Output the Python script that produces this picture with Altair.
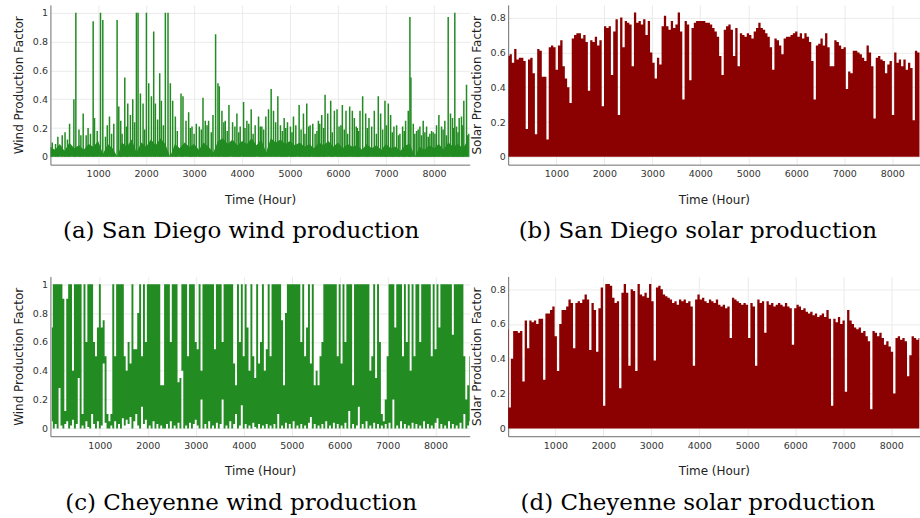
import altair as alt
import pandas as pd

GREEN = "#228b22"
DARKRED = "#8b0000"

# ---------------- (a) San Diego wind ----------------
# dense low band, sampled every 100 h
sd_wind_band_step = 100
sd_wind_band = [0.07, 0.05, 0.09, 0.04, 0.10, 0.06, 0.08, 0.05, 0.09, 0.07,
                0.11, 0.02, 0.09, 0.06, 0.00, 0.10, 0.07, 0.12, 0.03, 0.10,
                0.07, 0.12, 0.08, 0.13, 0.09, 0.00, 0.09, 0.06, 0.10, 0.07,
                0.09, 0.05, 0.10, 0.07, 0.03, 0.11, 0.13, 0.09, 0.12, 0.08,
                0.11, 0.09, 0.13, 0.08, 0.12, 0.03, 0.13, 0.10, 0.12, 0.09,
                0.11, 0.08, 0.10, 0.07, 0.09, 0.06, 0.10, 0.08, 0.11, 0.07,
                0.10, 0.06, 0.09, 0.07, 0.08, 0.05, 0.09, 0.06, 0.08, 0.05,
                0.09, 0.06, 0.07, 0.04, 0.08, 0.09, 0.00, 0.07, 0.05, 0.08,
                0.06, 0.09, 0.05, 0.10, 0.07, 0.09, 0.06, 0.11]
# spikes above the band
sd_wind_spike_hours = [43, 112, 251, 404, 494, 535, 688, 750, 840, 896, 924, 1049, 1097,
                       1153, 1236, 1326, 1395, 1430, 1499, 1555, 1617, 1673, 1721, 1798,
                       1832, 1881, 1936, 2006, 2054, 2110, 2158, 2193, 2283, 2318, 2401,
                       2456, 2505, 2553, 2609, 2727, 2768, 2831, 2886, 2956, 3046, 3108,
                       3185, 3233, 3302, 3358, 3393, 3448, 3497, 3525, 3580, 3649, 3726,
                       3802, 3892, 3961, 4031, 4100, 4190, 4273, 4343, 4412, 4495, 4551,
                       4606, 4655, 4745, 4800, 4877, 4946, 5008, 5071, 5189, 5279, 5348,
                       5418, 5473, 5522, 5591, 5660, 5730, 5785, 5847, 5924, 5979, 6021,
                       6090, 6166, 6243, 6298, 6340, 6402, 6458, 6513, 6576, 6645, 6701,
                       6756, 6839, 6888, 6978, 7047, 7096, 7165, 7221, 7290, 7346, 7408,
                       7464, 7498, 7519, 7568, 7637, 7706, 7775, 7845, 7914, 7983, 8053,
                       8102, 8157, 8226, 8296, 8344, 8386, 8434, 8469, 8525, 8573, 8622,
                       8678, 8726,
                       160, 310, 360, 600, 640, 790, 980, 1190, 1280, 1470, 1590, 1760,
                       1970, 2240, 2360, 2650, 2920, 3000, 3150, 3270, 3620, 3690, 3850,
                       3930, 4060, 4140, 4230, 4380, 4450, 4700, 4840, 4910, 5040, 5120,
                       5230, 5310, 5390, 5560, 5620, 5700, 5880, 6060, 6130, 6200, 6380,
                       6430, 6610, 6800, 6930, 7010, 7130, 7260, 7380, 7600, 7670, 7740,
                       7810, 7880, 7950, 8020, 8190, 8260, 8410, 8500, 8600, 8700]
sd_wind_spike_values = [0.10, 0.09, 0.15, 0.23, 0.40, 1.00, 0.30, 0.15, 0.16, 0.94, 0.27, 1.00, 0.95,
                        0.14, 0.28, 0.23, 0.95, 0.35, 0.16, 0.55, 0.37, 0.29, 0.40, 1.00,
                        1.00, 0.44, 0.37, 1.00, 0.51, 0.42, 0.87, 0.37, 0.58, 0.39, 1.00,
                        1.00, 0.51, 0.39, 0.28, 0.44, 0.42, 0.25, 0.31, 0.21, 0.23, 0.21,
                        0.41, 0.25, 0.25, 0.17, 0.29, 0.85, 0.51, 0.49, 0.32, 0.25, 0.36,
                        0.24, 0.30, 0.21, 0.38, 0.25, 0.33, 0.22, 0.28, 0.21, 0.28, 0.33,
                        0.47, 0.32, 0.42, 0.22, 0.27, 0.24, 0.21, 0.28, 0.36, 0.30, 0.37,
                        0.22, 0.23, 0.16, 0.25, 0.29, 0.43, 0.30, 0.39, 0.32, 0.33, 0.21,
                        0.36, 0.32, 0.35, 0.32, 0.27, 0.20, 0.32, 0.42, 0.30, 0.27, 0.21,
                        0.32, 0.42, 0.30, 0.39, 0.37, 0.29, 0.21, 0.22, 0.16, 0.21, 0.25,
                        0.32, 0.97, 0.55, 0.23, 0.18, 0.21, 0.25, 0.21, 0.16, 0.17, 0.22,
                        0.29, 0.21, 0.25, 0.97, 0.30, 0.27, 1.00, 0.21, 0.27, 0.28, 0.39,
                        0.50, 0.16,
                        0.14, 0.17, 0.12, 0.19, 0.15, 0.20, 0.18, 0.22, 0.16, 0.25, 0.21, 0.24,
                        0.19, 0.26, 0.22, 0.18, 0.20, 0.16, 0.19, 0.22, 0.24, 0.18, 0.21,
                        0.17, 0.20, 0.23, 0.16, 0.21, 0.19, 0.24, 0.18, 0.20, 0.17, 0.22,
                        0.19, 0.16, 0.21, 0.18, 0.23, 0.20, 0.17, 0.22, 0.19, 0.16, 0.21,
                        0.18, 0.20, 0.16, 0.19, 0.22, 0.17, 0.15, 0.18, 0.16, 0.19, 0.15,
                        0.17, 0.14, 0.18, 0.16, 0.19, 0.15, 0.20, 0.17, 0.22, 0.15]

# ---------------- (b) San Diego solar: daily peaks every 48 h ----------------
solar_step = 48
sd_solar_peaks = [0.58, 0.59, 0.54, 0.62, 0.56, 0.57, 0.57, 0.55, 0.16, 0.56,
                  0.57, 0.48, 0.13, 0.62, 0.61, 0.46, 0.46, 0.10, 0.63, 0.64,
                  0.63, 0.50, 0.64, 0.67, 0.52, 0.45, 0.40, 0.31, 0.68, 0.70,
                  0.71, 0.71, 0.68, 0.70, 0.66, 0.38, 0.67, 0.66, 0.69, 0.64,
                  0.67, 0.29, 0.75, 0.74, 0.75, 0.47, 0.72, 0.79, 0.24, 0.80,
                  0.63, 0.78, 0.77, 0.76, 0.52, 0.83, 0.77, 0.78, 0.76, 0.79,
                  0.70, 0.78, 0.60, 0.54, 0.45, 0.57, 0.53, 0.75, 0.81, 0.75,
                  0.73, 0.78, 0.74, 0.76, 0.83, 0.72, 0.33, 0.78, 0.76, 0.44,
                  0.74, 0.77, 0.78, 0.78, 0.78, 0.78, 0.77, 0.77, 0.76, 0.74,
                  0.72, 0.69, 0.58, 0.47, 0.73, 0.75, 0.76, 0.73, 0.58, 0.74,
                  0.52, 0.71, 0.70, 0.69, 0.71, 0.70, 0.68, 0.72, 0.74, 0.77,
                  0.74, 0.73, 0.71, 0.69, 0.63, 0.50, 0.68, 0.67, 0.64, 0.59,
                  0.68, 0.69, 0.69, 0.70, 0.71, 0.72, 0.69, 0.71, 0.68, 0.71,
                  0.69, 0.66, 0.55, 0.33, 0.64, 0.65, 0.68, 0.64, 0.71, 0.63,
                  0.52, 0.52, 0.67, 0.66, 0.64, 0.62, 0.63, 0.39, 0.49, 0.48,
                  0.61, 0.61, 0.60, 0.59, 0.57, 0.55, 0.64, 0.60, 0.52, 0.22,
                  0.57, 0.58, 0.56, 0.55, 0.48, 0.53, 0.55, 0.24, 0.60, 0.54,
                  0.56, 0.52, 0.56, 0.50, 0.54, 0.51, 0.21, 0.61, 0.60, 0.60]

# ---------------- (c) Cheyenne wind: range (min..max) in 40 h bins ----------------
cy_wind_step = 40
cy_wind_max = [0.70, 1.00, 1.00, 1.00, 1.00, 1.00, 0.90, 0.12, 0.90, 1.00,
               1.00, 0.40, 1.00, 1.00, 1.00, 1.00, 0.10, 1.00, 0.60, 1.00,
               1.00, 1.00, 0.60, 0.50, 0.70, 1.00, 0.70, 0.75, 0.50, 0.10,
               0.05, 0.10, 1.00, 0.50, 1.00, 1.00, 1.00, 1.00, 0.50, 0.40,
               0.60, 0.45, 1.00, 0.55, 0.55, 0.80, 1.00, 0.50, 1.00, 0.60,
               1.00, 1.00, 1.00, 1.00, 1.00, 1.00, 1.00, 0.30, 0.30, 1.00,
               1.00, 1.00, 0.60, 1.00, 1.00, 1.00, 0.32, 0.35, 1.00, 1.00,
               1.00, 0.50, 1.00, 1.00, 1.00, 0.60, 0.55, 1.00, 0.40, 1.00,
               1.00, 1.00, 1.00, 1.00, 1.00, 0.55, 1.00, 1.00, 1.00, 0.60,
               1.00, 1.00, 1.00, 1.00, 1.00, 0.45, 0.30, 1.00, 0.60, 1.00,
               0.50, 1.00, 0.70, 0.40, 1.00, 0.50, 0.35, 1.00, 0.45, 0.60,
               1.00, 0.40, 0.55, 1.00, 0.50, 1.00, 1.00, 1.00, 1.00, 1.00,
               0.75, 0.30, 0.80, 1.00, 1.00, 1.00, 1.00, 1.00, 1.00, 1.00,
               0.60, 1.00, 0.50, 0.70, 1.00, 0.45, 1.00, 0.30, 0.40, 0.30,
               0.50, 0.60, 1.00, 1.00, 1.00, 1.00, 1.00, 1.00, 1.00, 0.50,
               1.00, 0.45, 1.00, 0.60, 1.00, 1.00, 1.00, 0.30, 1.00, 1.00,
               1.00, 1.00, 1.00, 1.00, 1.00, 1.00, 0.40, 0.50, 1.00, 0.35,
               1.00, 0.60, 0.10, 0.05, 0.20, 0.50, 1.00, 1.00, 1.00, 0.70,
               1.00, 1.00, 1.00, 0.50, 1.00, 0.60, 1.00, 0.40, 1.00, 0.50,
               1.00, 1.00, 0.60, 1.00, 1.00, 1.00, 1.00, 1.00, 0.50, 1.00,
               0.55, 1.00, 0.70, 1.00, 1.00, 1.00, 1.00, 1.00, 1.00, 0.65,
               1.00, 1.00, 1.00, 1.00, 1.00, 0.50, 0.20, 0.30, 0.50]
cy_wind_min = [0.05, 0.00, 0.03, 0.00, 0.28, 0.02, 0.00, 0.03, 0.05, 0.00,
               0.02, 0.06, 0.00, 0.03, 0.35, 0.00, 0.02, 0.00, 0.05, 0.01,
               0.00, 0.10, 0.03, 0.00, 0.05, 0.00, 0.02, 0.45, 0.04, 0.00,
               0.00, 0.02, 0.00, 0.05, 0.00, 0.03, 0.00, 0.07, 0.02, 0.06,
               0.03, 0.08, 0.00, 0.05, 0.10, 0.02, 0.00, 0.15, 0.03, 0.06,
               0.00, 0.02, 0.00, 0.05, 0.00, 0.03, 0.00, 0.02, 0.00, 0.00,
               0.03, 0.00, 0.05, 0.00, 0.02, 0.00, 0.04, 0.00, 0.40, 0.00,
               0.02, 0.00, 0.04, 0.00, 0.03, 0.06, 0.02, 0.00, 0.20, 0.00,
               0.03, 0.00, 0.05, 0.00, 0.02, 0.00, 0.04, 0.00, 0.03, 0.20,
               0.00, 0.02, 0.00, 0.05, 0.00, 0.03, 0.10, 0.00, 0.02, 0.16,
               0.00, 0.03, 0.00, 0.02, 0.00, 0.04, 0.01, 0.00, 0.03, 0.00,
               0.02, 0.00, 0.03, 0.00, 0.02, 0.00, 0.03, 0.00, 0.10, 0.00,
               0.02, 0.00, 0.04, 0.00, 0.03, 0.00, 0.05, 0.00, 0.02, 0.00,
               0.03, 0.00, 0.02, 0.00, 0.04, 0.08, 0.00, 0.03, 0.00, 0.02,
               0.00, 0.03, 0.00, 0.05, 0.00, 0.02, 0.00, 0.04, 0.00, 0.03,
               0.00, 0.02, 0.00, 0.04, 0.00, 0.12, 0.00, 0.03, 0.00, 0.02,
               0.15, 0.00, 0.03, 0.00, 0.05, 0.00, 0.02, 0.00, 0.04, 0.00,
               0.03, 0.00, 0.02, 0.00, 0.03, 0.00, 0.04, 0.00, 0.20, 0.00,
               0.02, 0.00, 0.05, 0.00, 0.03, 0.00, 0.02, 0.00, 0.04, 0.00,
               0.03, 0.00, 0.02, 0.00, 0.05, 0.00, 0.03, 0.00, 0.02, 0.00,
               0.04, 0.07, 0.00, 0.03, 0.00, 0.02, 0.00, 0.05, 0.00, 0.03,
               0.00, 0.02, 0.00, 0.04, 0.00, 0.10, 0.00, 0.02, 0.05]

# ---------------- (d) Cheyenne solar: daily peaks every 48 h ----------------
cy_solar_peaks = [0.57, 0.12, 0.40, 0.56, 0.56, 0.55, 0.56, 0.27, 0.62, 0.46,
                  0.62, 0.61, 0.62, 0.60, 0.63, 0.63, 0.28, 0.66, 0.66, 0.68,
                  0.70, 0.53, 0.33, 0.60, 0.68, 0.68, 0.70, 0.74, 0.72, 0.46,
                  0.72, 0.73, 0.72, 0.74, 0.77, 0.74, 0.45, 0.72, 0.68, 0.44,
                  0.69, 0.81, 0.13, 0.83, 0.83, 0.82, 0.75, 0.72, 0.73, 0.23,
                  0.78, 0.83, 0.78, 0.36, 0.80, 0.79, 0.33, 0.83, 0.77, 0.76,
                  0.78, 0.75, 0.83, 0.73, 0.39, 0.81, 0.82, 0.80, 0.77, 0.76,
                  0.75, 0.74, 0.72, 0.73, 0.71, 0.74, 0.73, 0.74, 0.72, 0.73,
                  0.70, 0.36, 0.74, 0.77, 0.74, 0.75, 0.73, 0.72, 0.74, 0.73,
                  0.72, 0.74, 0.71, 0.70, 0.71, 0.69, 0.70, 0.52, 0.75, 0.74,
                  0.73, 0.72, 0.71, 0.72, 0.71, 0.52, 0.72, 0.70, 0.36, 0.74,
                  0.72, 0.73, 0.55, 0.73, 0.71, 0.72, 0.70, 0.71, 0.72, 0.71,
                  0.70, 0.72, 0.70, 0.69, 0.48, 0.69, 0.71, 0.70, 0.68, 0.69,
                  0.67, 0.66, 0.67, 0.65, 0.66, 0.64, 0.65, 0.66, 0.64, 0.68,
                  0.63, 0.13, 0.63, 0.61, 0.64, 0.60, 0.62, 0.21, 0.68, 0.62,
                  0.60, 0.58, 0.57, 0.58, 0.55, 0.56, 0.53, 0.50, 0.11, 0.56,
                  0.55, 0.53, 0.55, 0.52, 0.48, 0.50, 0.47, 0.44, 0.20, 0.52,
                  0.53, 0.51, 0.52, 0.50, 0.30, 0.42, 0.53, 0.52, 0.51, 0.52]

# ---------------- tables ----------------
sd_band_df = pd.DataFrame({"hour": [i * sd_wind_band_step for i in range(len(sd_wind_band))],
                           "value": sd_wind_band})
sd_spike_df = pd.DataFrame({"hour": sd_wind_spike_hours, "value": sd_wind_spike_values})
sd_solar_df = pd.DataFrame({"hour": [i * solar_step for i in range(len(sd_solar_peaks))],
                            "value": sd_solar_peaks})
cy_wind_df = pd.DataFrame({"hour": [i * cy_wind_step for i in range(len(cy_wind_max))],
                           "value": cy_wind_max, "low": cy_wind_min})
cy_solar_df = pd.DataFrame({"hour": [i * solar_step for i in range(len(cy_solar_peaks))],
                            "value": cy_solar_peaks})

XTICKS = [1000, 2000, 3000, 4000, 5000, 6000, 7000, 8000]
WIND_TICKS = [0, 0.2, 0.4, 0.6, 0.8, 1]
SOLAR_TICKS = [0, 0.2, 0.4, 0.6, 0.8]
WIND_DOM = [-0.054, 1.054]
SOLAR_DOM = [-0.045, 0.873]

LEFT_W, RIGHT_W, H = 420, 412, 160


def xenc(dom):
    return alt.X("hour:Q", scale=alt.Scale(domain=dom, nice=False, zero=False),
                 axis=alt.Axis(values=XTICKS, format="d", title="Time (Hour)",
                               labelPadding=4, titlePadding=16))


def yenc(dom, ticks, title):
    return alt.Y("value:Q", scale=alt.Scale(domain=dom, nice=False, zero=False),
                 axis=alt.Axis(values=ticks, format="~g", title=title,
                               labelPadding=3, titlePadding=7))


def caption(text, dx=0):
    return alt.TitleParams(text=text, orient="bottom", anchor="middle",
                           font="DejaVu Serif", fontSize=23, fontWeight="normal",
                           color="#000000", offset=15, dx=dx)


# (a)
xa = xenc([5, 8745])
ya = yenc(WIND_DOM, WIND_TICKS, "Wind Production Factor")
panel_a = alt.layer(
    alt.Chart(sd_band_df).mark_area(color=GREEN, clip=True).encode(x=xa, y=ya),
    alt.Chart(sd_spike_df).mark_rule(color=GREEN, strokeWidth=1.5, clip=True).encode(
        x=xa, y=ya, y2=alt.datum(0)),
).properties(width=LEFT_W, height=H, title=caption("(a) San Diego wind production", -19))

# (b)
panel_b = alt.Chart(sd_solar_df).mark_area(color=DARKRED, clip=True, interpolate="step").encode(
    x=xenc([-5, 8568]),
    y=yenc(SOLAR_DOM, SOLAR_TICKS, "Solar Production Factor"),
).properties(width=RIGHT_W, height=H, title=caption("(b) San Diego solar production", -16))

# (c)
panel_c = alt.Chart(cy_wind_df).mark_area(color=GREEN, clip=True, interpolate="step").encode(
    x=xenc([-30, 8712]),
    y=yenc(WIND_DOM, WIND_TICKS, "Wind Production Factor"),
    y2="low:Q",
).properties(width=LEFT_W, height=H, title=caption("(c) Cheyenne wind production", -19))

# (d)
panel_d = alt.Chart(cy_solar_df).mark_area(color=DARKRED, clip=True, interpolate="step").encode(
    x=xenc([16, 8589]),
    y=yenc(SOLAR_DOM, SOLAR_TICKS, "Solar Production Factor"),
).properties(width=RIGHT_W, height=H, title=caption("(d) Cheyenne solar production", -16))

chart = alt.concat(
    panel_a, panel_b, panel_c, panel_d,
    columns=2, spacing={"row": 112, "column": 38.5}, bounds="flush", align="each",
).properties(
    padding={"left": 11.5, "top": 4.5, "right": 0, "bottom": 0},
    background="white",
).configure_axis(
    domainColor="#6e6e6e", domainWidth=1, gridColor="#ebebeb", gridWidth=1,
    ticks=False, labelFont="DejaVu Sans", labelFontSize=9.5, labelColor="#333333",
    titleFont="DejaVu Sans", titleFontSize=12, titleFontWeight="normal",
    titleColor="#222222",
).configure_view(stroke=None)

chart.save("out.html", embed_options={"renderer": "svg", "actions": False})
